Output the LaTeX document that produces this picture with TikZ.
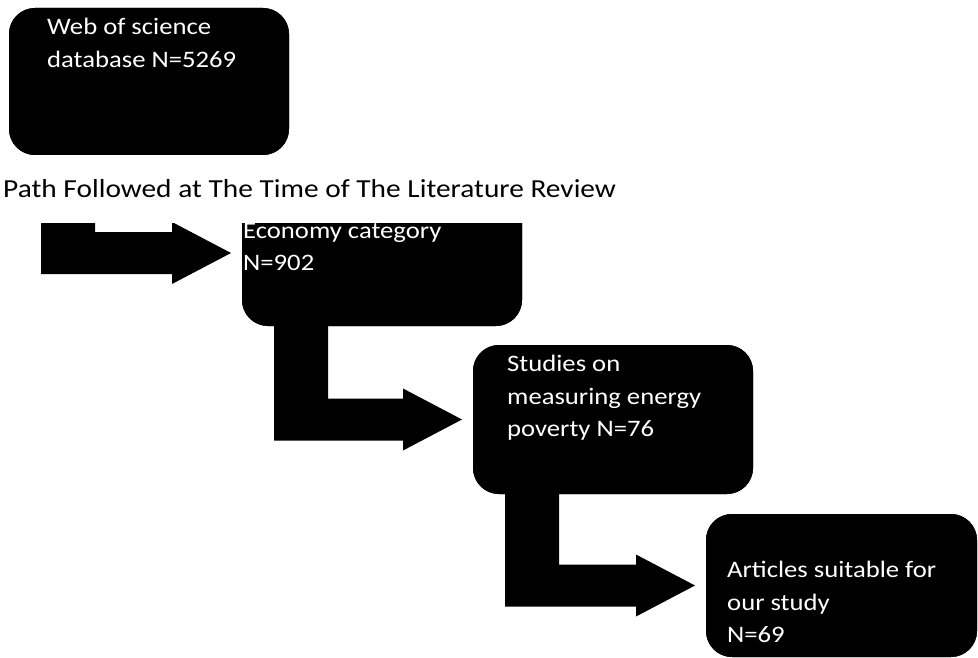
\documentclass[tikz,border=0pt]{standalone}
\usepackage{fontspec}
\setmainfont{Carlito}[FakeStretch=1.13]
\usetikzlibrary{calc}
\newcommand\boxfont{\fontsize{23.6}{32.4}\selectfont}
\newcommand\bentarrow[2]{%
  \fill[black] let \p1=(#1.south west), \p2=(#2.west) in
    (\x1+32pt,\y1+20pt) -- (\x1+86pt,\y1+20pt) -- (\x1+86pt,\y2+21pt)
    -- (\x2-70pt,\y2+21pt) -- (\x2-70pt,\y2+31pt) -- (\x2-11pt,\y2)
    -- (\x2-70pt,\y2-31pt) -- (\x2-70pt,\y2-21pt) -- (\x1+32pt,\y2-21pt) -- cycle;}
\tikzset{
  stagebox/.style={fill=black, draw=none, rounded corners=26pt, inner sep=0pt, outer sep=0pt, anchor=north west},
  boxtext/.style={text=white, align=left, inner sep=0pt, anchor=base west, font=\boxfont},
}
\begin{document}
\begin{tikzpicture}[x=1pt,y=-1pt]
\useasboundingbox (0,0) rectangle (978,658);
% boxes
\node[stagebox, minimum width=280pt, minimum height=147pt] (b1) at (9,8) {};
\node[stagebox, minimum width=280pt, minimum height=146pt] (b2) at (242,180) {};
\node[stagebox, minimum width=280pt, minimum height=149pt] (b3) at (473,345) {};
\node[stagebox, minimum width=271pt, minimum height=143pt] (b4) at (706,514) {};
% arrows
\bentarrow{b1}{b2}
\bentarrow{b2}{b3}
\bentarrow{b3}{b4}
% redraw boxes over the arrow bars
\node[stagebox, minimum width=280pt, minimum height=147pt] at (9,8) {};
\node[stagebox, minimum width=280pt, minimum height=146pt] at (242,180) {};
\node[stagebox, minimum width=280pt, minimum height=149pt] at (473,345) {};
\node[stagebox, minimum width=271pt, minimum height=143pt] at (706,514) {};
% texts (anchor = baseline of last line)
\node[boxtext] (t1) at (47,67.4) {Web of science\\database N=5269};
\node[boxtext] (t2) at (243,270.9) {Economy category\\N=902};
\node[boxtext] (t3) at (507,436.5) {Studies on\\measuring energy\\poverty N=76};
\node[boxtext] (t4) at (727,642.5) {Articles suitable for\\our study\\N=69};
% title band
\fill[white] (0,155) rectangle (660,222.7);
\node[inner sep=0pt, anchor=base west, font=\fontsize{26}{30}\selectfont] (title) at (3,198) {Path Followed at The Time of The Literature Review};
\end{tikzpicture}
\end{document}
